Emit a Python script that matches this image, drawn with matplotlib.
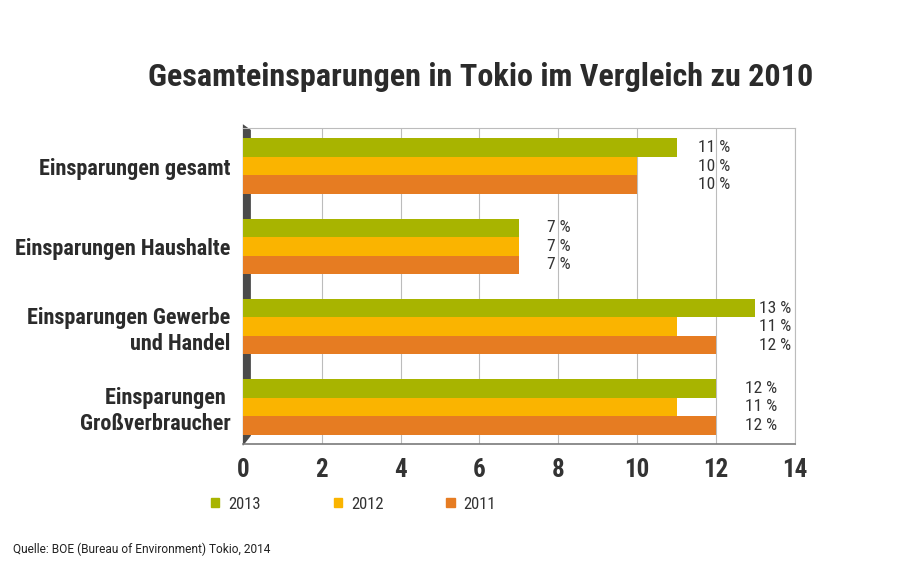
import numpy as np
import matplotlib.pyplot as plt
from matplotlib.patches import Polygon, Patch

plt.rcParams['font.family'] = ['Roboto Condensed', 'DejaVu Sans Condensed', 'Liberation Sans']

categories = ['Einsparungen gesamt', 'Einsparungen Haushalte',
              'Einsparungen Gewerbe\nund Handel', 'Einsparungen \nGroßverbraucher']
years = ['2013', '2012', '2011']
v2013 = [11, 7, 13, 12]
v2012 = [10, 7, 11, 11]
v2011 = [10, 7, 12, 12]
colors = ['#a8b400', '#fab400', '#e67c22']

label_right = [12.35, 8.3, 13.9, 13.55]

fig = plt.figure(figsize=(9.2, 5.8), dpi=100)
ax = fig.add_axes([0.264, 0.2345, 0.600, 0.5448])

y = np.arange(len(categories))
h = 0.23
series = [v2013, v2012, v2011]
for k, (vals, c) in enumerate(zip(series, colors)):
    ax.barh(y + (k - 1) * h, vals, height=h, color=c, zorder=3, label=years[k])

for i in range(len(categories)):
    for k, vals in enumerate(series):
        ax.text(label_right[i], y[i] + (k - 1) * h, '%d %%' % vals[i],
                ha='right', va='center', fontsize=12.5, color='#333333', zorder=4)

ax.set_xlim(0, 14)
ax.set_ylim(3.4625, -0.475)
ax.set_xticks(range(0, 15, 2))
ax.set_yticks(y)
ax.set_yticklabels(categories, fontsize=16, fontweight='bold', color='#2b2b2b',
                   linespacing=1.2)
for t in ax.get_yticklabels():
    t.set_multialignment('right')
ax.tick_params(axis='x', length=0, pad=10, labelsize=18, labelcolor='#333333')
ax.tick_params(axis='y', length=0, pad=9)
for t in ax.get_xticklabels():
    t.set_fontweight('bold')

ax.grid(axis='x', color='#bcbcbc', linewidth=0.8, zorder=0)
ax.set_axisbelow(True)
ax.spines['left'].set_visible(False)
ax.spines['top'].set_color('#bcbcbc')
ax.spines['right'].set_color('#bcbcbc')
ax.spines['bottom'].set_color('#7a7a7a')
ax.spines['bottom'].set_linewidth(1.2)

# dark left wall, slanted at both ends
wall = Polygon([[0, 1.012], [0.0145, 0.994], [0.0145, 0.026], [0, -0.006]],
               closed=True, transform=ax.transAxes, facecolor='#4a4a4a',
               edgecolor='none', zorder=2, clip_on=False)
ax.add_patch(wall)

fig.suptitle('Gesamteinsparungen in Tokio im Vergleich zu 2010', x=0.522, y=0.893,
             fontsize=23.2, fontweight='bold', color='#2b2b2b')

leg_x = [0.229, 0.363, 0.485]
for k in range(3):
    leg = fig.legend(handles=[Patch(color=colors[k])], labels=[years[k]],
                     loc='center left', bbox_to_anchor=(leg_x[k], 0.131),
                     frameon=False, fontsize=12, handlelength=0.5,
                     handleheight=0.5, handletextpad=0.55, borderpad=0,
                     borderaxespad=0)
    for t in leg.get_texts():
        t.set_color('#333333')

fig.text(0.014, 0.0466, 'Quelle: BOE (Bureau of Environment) Tokio, 2014',
         fontsize=8.6, color='#222222', family=['Roboto', 'Liberation Sans'])

fig.savefig('out.png', dpi=100)
